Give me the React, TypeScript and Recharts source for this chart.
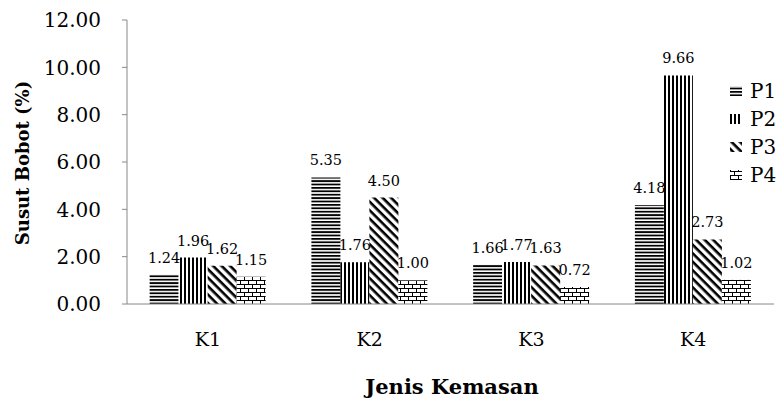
import React from "react";
import { BarChart, Bar, XAxis, YAxis, LabelList } from "recharts";

// Weight loss (%) per packaging type and treatment
const kemasan = ["K1", "K2", "K3", "K4"];
const p1 = [1.24, 5.35, 1.66, 4.18];
const p2 = [1.96, 1.76, 1.77, 9.66];
const p3 = [1.62, 4.5, 1.63, 2.73];
const p4 = [1.15, 1.0, 0.72, 1.02];
const yTicks = [0, 2, 4, 6, 8, 10, 12];
const seriesNames = ["P1", "P2", "P3", "P4"];

const data = kemasan.map((k, i) => ({ name: k, P1: p1[i], P2: p2[i], P3: p3[i], P4: p4[i] }));

const FONT = "DejaVu Serif";

const PatternDefs = () => (
  <defs>
    <pattern id="pat-P1" width="6" height="3.4" patternUnits="userSpaceOnUse">
      <rect width="6" height="3.4" fill="#fff" />
      <rect y="0" width="6" height="1.8" fill="#000" />
    </pattern>
    <pattern id="pat-P2" width="4" height="6" patternUnits="userSpaceOnUse">
      <rect width="4" height="6" fill="#fff" />
      <rect x="0" width="2" height="6" fill="#000" />
    </pattern>
    <pattern id="pat-P3" width="6" height="6" patternUnits="userSpaceOnUse" patternTransform="rotate(45)">
      <rect width="6" height="6" fill="#fff" />
      <rect x="0" width="6" height="2.6" fill="#000" />
    </pattern>
    <pattern id="pat-P4" width="8" height="8" patternUnits="userSpaceOnUse">
      <rect width="8" height="8" fill="#fff" />
      <rect y="0" width="8" height="1" fill="#000" />
      <rect y="4" width="8" height="1" fill="#000" />
      <rect x="0" y="0" width="1" height="4" fill="#000" />
      <rect x="4" y="4" width="1" height="4" fill="#000" />
    </pattern>
  </defs>
);

const YTick = ({ y, payload }: any) => (
  <text x={101} y={y} dy="0.36em" textAnchor="end" fontFamily={FONT} fontSize={20} fill="#000">
    {Number(payload.value).toFixed(2)}
  </text>
);

const XTick = ({ x, y, payload }: any) => (
  <text x={x} y={y + 27} dy="0.36em" textAnchor="middle" fontFamily={FONT} fontSize={19} fill="#000">
    {payload.value}
  </text>
);

const ValueLabel = ({ x, y, width, value }: any) => (
  <text
    x={Number(x) + Number(width) / 2}
    y={Number(y) - 12}
    textAnchor="middle"
    fontFamily={FONT}
    fontSize={14.5}
    fill="#000"
  >
    {Number(value).toFixed(2)}
  </text>
);

// Legend drawn inside the svg so it does not shrink the plot area
const SideLegend = () => (
  <g>
    {seriesNames.map((s, i) => (
      <g key={s} transform={`translate(730, ${91 + i * 28})`}>
        <rect x={0} y={-5} width={12} height={10} fill={`url(#pat-${s})`} />
        <text x={20} y={0} dy="0.36em" fontFamily={FONT} fontSize={20} fill="#000">
          {s}
        </text>
      </g>
    ))}
  </g>
);

export default function App() {
  return (
    <div style={{ position: "absolute", left: 0, top: 0, width: 778, height: 398, background: "#fff" }}>
      <BarChart
        width={778}
        height={398}
        data={data}
        margin={{ top: 20, right: 4, bottom: 64, left: 0 }}
        barCategoryGap="14%"
        barGap={0}
      >
        <PatternDefs />
        <XAxis dataKey="name" tickLine={false} axisLine={{ stroke: "#888" }} tick={<XTick />} />
        <YAxis
          width={127}
          domain={[0, 12]}
          ticks={yTicks}
          axisLine={{ stroke: "#888" }}
          tickLine={{ stroke: "#888" }}
          tickSize={5}
          tick={<YTick />}
        />
        {seriesNames.map((s) => (
          <Bar key={s} dataKey={s} fill={`url(#pat-${s})`} isAnimationActive={false}>
            <LabelList dataKey={s} content={<ValueLabel />} />
          </Bar>
        ))}
        <SideLegend />
        <text
          x={22}
          y={163}
          transform="rotate(-90 22 163)"
          textAnchor="middle"
          dominantBaseline="central"
          fontFamily={FONT}
          fontSize={18}
          fontWeight="bold"
        >
          Susut Bobot (%)
        </text>
        <text
          x={452}
          y={386}
          textAnchor="middle"
          dominantBaseline="central"
          fontFamily={FONT}
          fontSize={21}
          fontWeight="bold"
        >
          Jenis Kemasan
        </text>
      </BarChart>
    </div>
  );
}
